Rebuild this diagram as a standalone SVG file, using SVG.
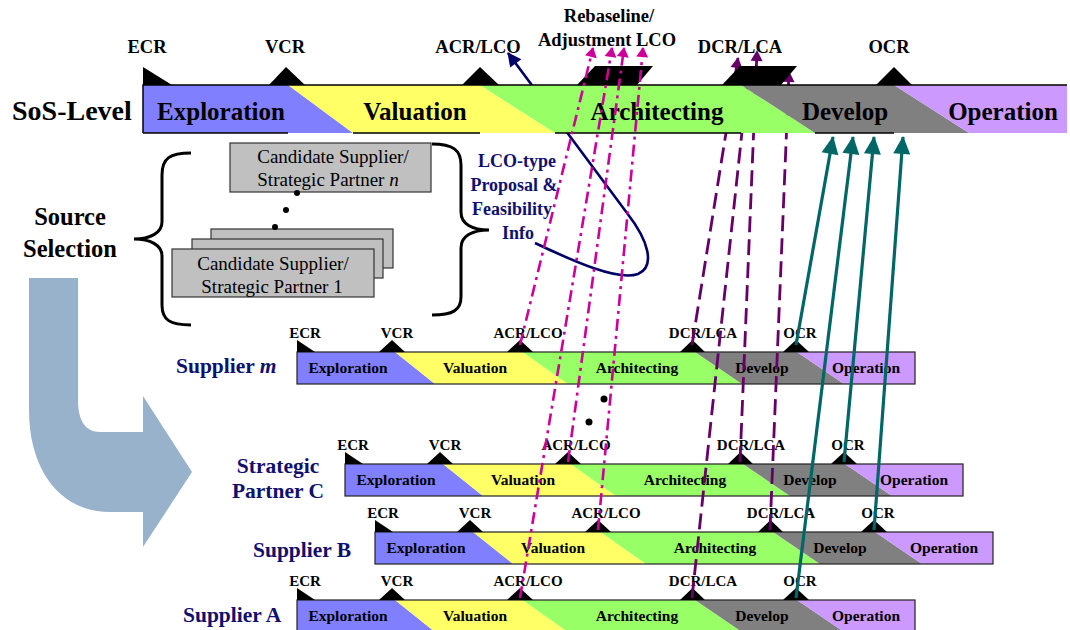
<svg xmlns="http://www.w3.org/2000/svg" width="1070" height="630" viewBox="0 0 1070 630" font-family="Liberation Serif, Times New Roman, serif">
<defs>
<style>
.t{font-family:"Liberation Serif","Times New Roman",serif;}
.b{font-weight:bold;}
.nv{fill:#10106e;}
.ms{font-size:18.5px;text-anchor:middle;font-weight:bold;}
.sms{font-size:15px;text-anchor:middle;font-weight:bold;}
.sph{font-size:15.5px;text-anchor:middle;font-weight:bold;}
.ph{font-size:25px;text-anchor:middle;font-weight:bold;}
.pb{fill:#8080ff;}.py{fill:#ffff66;}.pg{fill:#99ff66;}.pr{fill:#808080;}.pp{fill:#cc99ff;}
.box{fill:#c0c0c0;stroke:#333;stroke-width:1.2;}
.bt{font-size:19px;text-anchor:middle;}
.brace{fill:none;stroke:#000;stroke-width:3;}
.mag{fill:none;stroke:#cc0099;stroke-width:2.6;stroke-dasharray:12 5 3 5;marker-end:url(#mMag);}
.pur{fill:none;stroke:#660066;stroke-width:2.8;stroke-dasharray:16 7;marker-end:url(#mPur);}
.teal{fill:none;stroke:#006666;stroke-width:3.2;marker-end:url(#mTeal);}
.outl{fill:none;stroke:#222;stroke-width:1.2;}
</style>
<marker id="mMag" markerUnits="userSpaceOnUse" orient="auto" overflow="visible"><path d="M-9,-6 L1,0 L-9,6 z" fill="#cc0099"/></marker>
<marker id="mPur" markerUnits="userSpaceOnUse" orient="auto" overflow="visible"><path d="M-10,-6 L1,0 L-10,6 z" fill="#660066"/></marker>
<marker id="mTeal" markerUnits="userSpaceOnUse" orient="auto" overflow="visible"><path d="M-17,-8.5 L1,0 L-17,8.5 z" fill="#006666"/></marker>
<marker id="mNavy" markerUnits="userSpaceOnUse" orient="auto" overflow="visible"><path d="M-13,-7 L1,0 L-13,7 z" fill="#000066"/></marker>
</defs>
<rect width="1070" height="630" fill="#ffffff"/>

<!-- Source selection arrow -->
<g id="source-arrow">
<path d="M29,278 H78 V400 C78,420 85,432 100,432 H143 V396 L192,472 L143,547 V512 H110 C60,512 29,470 29,410 Z" fill="#98b2cb"/>
</g>
<g id="source-selection-label">
<text class="t b" x="70" y="225" font-size="24.5" text-anchor="middle">Source</text>
<text class="t b" x="70" y="257" font-size="24.5" text-anchor="middle">Selection</text>
</g>

<g id="braces">
<path class="brace" d="M191,153 C170,153 162,158 162,175 V222 C162,233 150,239 134,239 C150,239 162,245 162,256 V305 C162,320 170,325 191,325"/>
<path class="brace" d="M432,144 C453,144 461,150 461,165 V212 C461,224 472,230 489,230 C472,230 461,236 461,248 V297 C461,310 453,315 432,315"/>
</g>

<g id="candidate-n">
<rect class="box" x="230" y="143" width="201" height="49"/>
<text class="t bt" x="333" y="163">Candidate Supplier/</text>
<text class="t bt" x="328" y="186">Strategic Partner <tspan font-style="italic">n</tspan></text>
</g>
<g id="candidate-1">
<rect class="box" x="211" y="229" width="182" height="39"/>
<rect class="box" x="192" y="239" width="191" height="39"/>
<rect class="box" x="172" y="249" width="202" height="48"/>
<text class="t bt" x="273" y="270">Candidate Supplier/</text>
<text class="t bt" x="272" y="293">Strategic Partner 1</text>
</g>
<g id="ellipsis-dots">
<circle cx="297" cy="193" r="3"/>
<circle cx="286" cy="210" r="3"/>
<circle cx="275" cy="227" r="3"/>
<circle cx="604" cy="399" r="3.5"/>
<circle cx="589" cy="422" r="3.5"/>
</g>

<g id="lco-info-label">
<text class="t b nv" font-size="18" text-anchor="middle"><tspan x="517" y="167">LCO-type</tspan><tspan x="514" y="191">Proposal &amp;</tspan><tspan x="512" y="215">Feasibility</tspan><tspan x="518" y="239">Info</tspan></text>
</g>

<!-- Supplier m -->
<g id="supplier-m" transform="translate(297,352)">
<polygon class="pb" points="0,0 98,0 138,32 0,32"/>
<polygon class="py" points="98,0 225.5,0 271,32 138,32"/>
<polygon class="pg" points="225.5,0 398,0 445,32 271,32"/>
<polygon class="pr" points="398,0 500,0 547,32 445,32"/>
<polygon class="pp" points="500,0 618,0 618,32 547,32"/>
<rect class="outl" x="0" y="0" width="618" height="32"/>
<polygon points="0,-12 0,0 18,0"/><polygon points="82,0 95,-12 108,0"/><polygon points="210,0 223,-12 236,0"/><polygon points="383,0 395.5,-12 408,0"/><polygon points="486,0 499,-12 512,0"/>
<text class="t sms" x="8" y="-14">ECR</text><text class="t sms" x="100" y="-14">VCR</text><text class="t sms" x="231" y="-14">ACR/LCO</text><text class="t sms" x="406" y="-14">DCR/LCA</text><text class="t sms" x="503" y="-14">OCR</text>
<text class="t sph" x="51" y="21">Exploration</text><text class="t sph" x="178" y="21">Valuation</text><text class="t sph" x="340" y="21">Architecting</text><text class="t sph" x="465" y="21">Develop</text><text class="t sph" x="569" y="21">Operation</text>
<text class="t b nv" x="-121" y="21" font-size="21.5">Supplier <tspan font-style="italic">m</tspan></text>
</g>

<!-- Strategic Partner C -->
<g id="strategic-partner-c" transform="translate(345,464)">
<polygon class="pb" points="0,0 98,0 138,32 0,32"/>
<polygon class="py" points="98,0 225.5,0 271,32 138,32"/>
<polygon class="pg" points="225.5,0 398,0 445,32 271,32"/>
<polygon class="pr" points="398,0 500,0 547,32 445,32"/>
<polygon class="pp" points="500,0 618,0 618,32 547,32"/>
<rect class="outl" x="0" y="0" width="618" height="32"/>
<polygon points="0,-12 0,0 18,0"/><polygon points="82,0 95,-12 108,0"/><polygon points="210,0 223,-12 236,0"/><polygon points="383,0 395.5,-12 408,0"/><polygon points="486,0 499,-12 512,0"/>
<text class="t sms" x="8" y="-14">ECR</text><text class="t sms" x="100" y="-14">VCR</text><text class="t sms" x="231" y="-14">ACR/LCO</text><text class="t sms" x="406" y="-14">DCR/LCA</text><text class="t sms" x="503" y="-14">OCR</text>
<text class="t sph" x="51" y="21">Exploration</text><text class="t sph" x="178" y="21">Valuation</text><text class="t sph" x="340" y="21">Architecting</text><text class="t sph" x="465" y="21">Develop</text><text class="t sph" x="569" y="21">Operation</text>
<text class="t b nv" x="-67" y="9" font-size="21.5" text-anchor="middle">Strategic</text>
<text class="t b nv" x="-67" y="34" font-size="21.5" text-anchor="middle">Partner C</text>
</g>

<!-- Supplier B -->
<g id="supplier-b" transform="translate(375,532)">
<polygon class="pb" points="0,0 98,0 138,32 0,32"/>
<polygon class="py" points="98,0 225.5,0 271,32 138,32"/>
<polygon class="pg" points="225.5,0 398,0 445,32 271,32"/>
<polygon class="pr" points="398,0 500,0 547,32 445,32"/>
<polygon class="pp" points="500,0 618,0 618,32 547,32"/>
<rect class="outl" x="0" y="0" width="618" height="32"/>
<polygon points="0,-12 0,0 18,0"/><polygon points="82,0 95,-12 108,0"/><polygon points="210,0 223,-12 236,0"/><polygon points="383,0 395.5,-12 408,0"/><polygon points="486,0 499,-12 512,0"/>
<text class="t sms" x="8" y="-14">ECR</text><text class="t sms" x="100" y="-14">VCR</text><text class="t sms" x="231" y="-14">ACR/LCO</text><text class="t sms" x="406" y="-14">DCR/LCA</text><text class="t sms" x="503" y="-14">OCR</text>
<text class="t sph" x="51" y="21">Exploration</text><text class="t sph" x="178" y="21">Valuation</text><text class="t sph" x="340" y="21">Architecting</text><text class="t sph" x="465" y="21">Develop</text><text class="t sph" x="569" y="21">Operation</text>
<text class="t b nv" x="-122" y="25" font-size="21.5">Supplier B</text>
</g>

<!-- Supplier A -->
<g id="supplier-a" transform="translate(297,600)">
<polygon class="pb" points="0,0 98,0 138,32 0,32"/>
<polygon class="py" points="98,0 225.5,0 271,32 138,32"/>
<polygon class="pg" points="225.5,0 398,0 445,32 271,32"/>
<polygon class="pr" points="398,0 500,0 547,32 445,32"/>
<polygon class="pp" points="500,0 618,0 618,32 547,32"/>
<rect class="outl" x="0" y="0" width="618" height="32"/>
<polygon points="0,-12 0,0 18,0"/><polygon points="82,0 95,-12 108,0"/><polygon points="210,0 223,-12 236,0"/><polygon points="383,0 395.5,-12 408,0"/><polygon points="486,0 499,-12 512,0"/>
<text class="t sms" x="8" y="-14">ECR</text><text class="t sms" x="100" y="-14">VCR</text><text class="t sms" x="231" y="-14">ACR/LCO</text><text class="t sms" x="406" y="-14">DCR/LCA</text><text class="t sms" x="503" y="-14">OCR</text>
<text class="t sph" x="51" y="21">Exploration</text><text class="t sph" x="178" y="21">Valuation</text><text class="t sph" x="340" y="21">Architecting</text><text class="t sph" x="465" y="21">Develop</text><text class="t sph" x="569" y="21">Operation</text>
<text class="t b nv" x="-114" y="22" font-size="21.5">Supplier A</text>
</g>

<!-- connectors beneath SoS bar -->
<g id="connectors-under">
<path d="M535,243 C575,262 618,281 638,274 C656,266 648,240 627,213 L508,53" fill="none" stroke="#000066" stroke-width="2.6" marker-end="url(#mNavy)"/>
<line class="pur" x1="692" y1="345" x2="738" y2="58"/>
<line class="pur" x1="692" y1="598" x2="748" y2="76"/>
<line class="pur" x1="740" y1="462" x2="757" y2="51"/>
<line class="pur" x1="770" y1="530" x2="789" y2="72"/>
</g>

<!-- SoS level -->
<g id="sos-level">
<polygon class="pb" points="143,85 288,85 353,133 143,133"/>
<polygon class="py" points="288,85 480,85 555,133 353,133"/>
<polygon class="pg" points="480,85 741,85 815,133 555,133"/>
<polygon class="pr" points="741,85 894,85 969,133 815,133"/>
<polygon class="pp" points="894,85 1067,85 1067,133 969,133"/>
<path d="M143,133 V85 H1067 M143,133 H288 M353,133 H480 M555,133 H741 M815,133 H894" fill="none" stroke="#000" stroke-width="1.5"/>
<polygon points="143,67 143,85 172,85"/>
<polygon points="269,85 286,67 305,85"/>
<polygon points="462,85 480,67 499,85"/>
<polygon points="876,85 894,67 912,85"/>
<polygon points="577,85 595,66 653,66 637,85"/>
<polygon points="722,85 740,66 797,66 781,85"/>
<text class="t ph" x="221" y="120">Exploration</text>
<text class="t ph" x="415" y="120">Valuation</text>
<text class="t ph" x="657" y="120">Architecting</text>
<text class="t ph" x="845" y="120">Develop</text>
<text class="t ph" x="1003" y="120">Operation</text>
<text class="t b" x="12" y="120" font-size="28">SoS-Level</text>
</g>
<g id="sos-milestones">
<text class="t ms" x="147" y="53">ECR</text>
<text class="t ms" x="285" y="53">VCR</text>
<text class="t ms" x="478" y="53">ACR/LCO</text>
<text class="t ms" x="740" y="53">DCR/LCA</text>
<text class="t ms" x="889" y="53">OCR</text>
<text class="t ms" x="609" y="22" font-size="18">Rebaseline/</text>
<text class="t ms" x="607" y="46" font-size="18">Adjustment LCO</text>
</g>

<!-- connectors over bars -->
<g id="connectors">
<line class="mag" x1="520" y1="345" x2="593" y2="48"/>
<line class="mag" x1="520" y1="598" x2="612" y2="48"/>
<line class="mag" x1="568" y1="462" x2="624" y2="48"/>
<line class="mag" x1="598" y1="530" x2="643" y2="48"/>
<line class="teal" x1="796" y1="345" x2="833" y2="137"/>
<line class="teal" x1="796" y1="598" x2="853" y2="137"/>
<line class="teal" x1="844" y1="462" x2="874" y2="137"/>
<line class="teal" x1="874" y1="530" x2="903" y2="137"/>
</g>
</svg>
